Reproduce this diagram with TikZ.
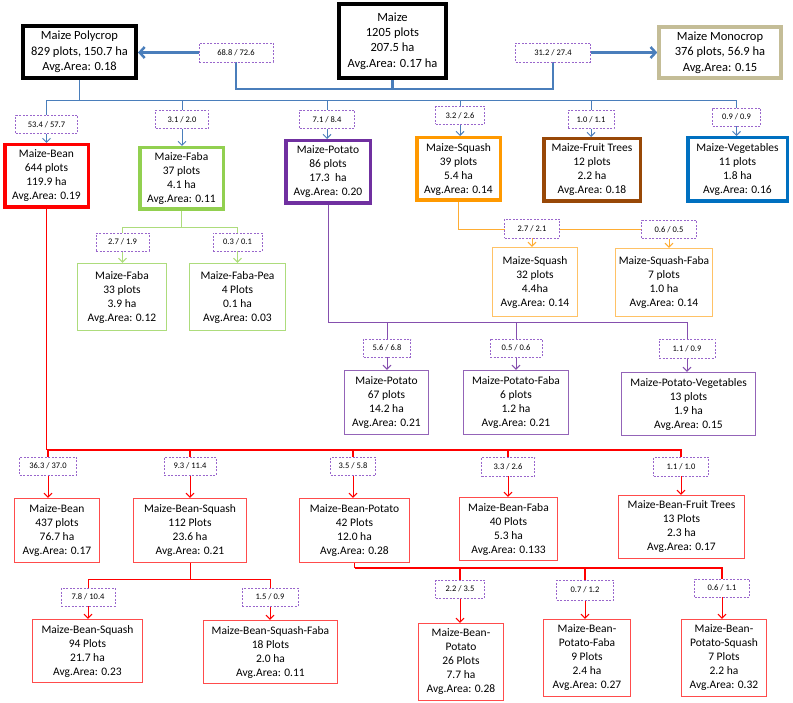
\documentclass[tikz,border=0pt]{standalone}
\usepackage{fontspec}
\setmainfont{Carlito}
\usepackage{xcolor}
\usepackage{tikz}
\usetikzlibrary{arrows.meta,backgrounds}

\definecolor{lineblue}{HTML}{4A7EBB}
\definecolor{monotan}{HTML}{C4BD97}
\definecolor{beanred}{HTML}{FF0000}
\definecolor{fabagreen}{HTML}{92D050}
\definecolor{potpurple}{HTML}{7030A0}
\definecolor{sqorange}{HTML}{FF9900}
\definecolor{fruitbrown}{HTML}{984807}
\definecolor{vegblue}{HTML}{0070C0}
\definecolor{sharepurple}{HTML}{9966CC}
\colorlet{leafred}{beanred!70}
\colorlet{leafgreen}{fabagreen!75}
\colorlet{leafpurple}{potpurple!75}
\colorlet{leaforange}{sqorange!60}
\colorlet{sqline}{sqorange!80}

\begin{document}
\begin{tikzpicture}[x=1pt,y=-1pt,
    block/.style={rectangle,draw,fill=white,align=center,inner sep=0pt,
                  font=\fontsize{11.5}{14}\selectfont},
    topblock/.style={block,line width=4pt,font=\fontsize{12.5}{15.3}\selectfont},
    mainblock/.style={block,line width=3.5pt},
    leaf/.style={block,line width=1.2pt},
    share/.style={rectangle,draw=sharepurple,dash pattern=on 2pt off 1.5pt,
                  line width=0.8pt,fill=white,inner sep=0pt,minimum height=18pt,
                  font=\fontsize{8.5}{10}\selectfont},
    trunk/.style={lineblue,line width=2.5pt},
    bigarrow/.style={trunk,-{Straight Barb[length=5pt,width=11pt]}},
    link/.style={line width=1pt},
    arrow/.style={link,-{Straight Barb[length=4pt,width=8pt]}}]
\useasboundingbox (0,0) rectangle (793,703);

% top row
\node[topblock,minimum width=107pt,minimum height=74pt] (maize) at (392.5,41) {Maize\\1205 plots\\207.5 ha\\Avg.Area: 0.17 ha};
\node[topblock,minimum width=113pt,minimum height=52pt] (poly) at (79.5,52) {Maize Polycrop\\829 plots, 150.7 ha\\Avg.Area: 0.18};
\node[topblock,draw=monotan,line width=3.5pt,minimum width=122pt,minimum height=51pt] (mono) at (720,52.5) {Maize Monocrop\\376 plots, 56.9 ha\\Avg.Area: 0.15};
\node[share,minimum width=74pt,minimum height=19pt] (s-poly) at (236,52.5) {68.8 / 72.6};
\node[share,minimum width=75pt,minimum height=19pt] (s-mono) at (553,52.5) {31.2 / 27.4};

% polycrop split
\node[share,minimum width=62pt] (s-bean) at (46.5,124.5) {53.4 / 57.7};
\node[share,minimum width=53pt] (s-faba) at (182,119.5) {3.1 / 2.0};
\node[share,minimum width=55pt] (s-pot) at (327,119.5) {7.1 / 8.4};
\node[share,minimum width=49pt] (s-sq) at (460,115.5) {3.2 / 2.6};
\node[share,minimum width=46pt] (s-fruit) at (591,119.5) {1.0 / 1.1};
\node[share,minimum width=48pt] (s-veg) at (736.5,117) {0.9 / 0.9};

\node[mainblock,draw=beanred,minimum width=83.5pt,minimum height=62.5pt] (bean) at (46.5,176) {Maize-Bean\\644 plots\\119.9 ha\\Avg.Area: 0.19};
\node[mainblock,draw=fabagreen,minimum width=83.5pt,minimum height=61.5pt] (faba) at (181.5,178.5) {Maize-Faba\\37 plots\\4.1 ha\\Avg.Area: 0.11};
\node[mainblock,draw=potpurple,minimum width=84.5pt,minimum height=62.5pt] (pot) at (328,172) {Maize-Potato\\86 plots\\17.3\ \ ha\\Avg.Area: 0.20};
\node[mainblock,draw=sqorange,minimum width=83.5pt,minimum height=62.5pt] (sq) at (458.5,169) {Maize-Squash\\39 plots\\5.4 ha\\Avg.Area: 0.14};
\node[mainblock,draw=fruitbrown,minimum width=96.5pt,minimum height=62.5pt] (fruit) at (592,170) {Maize-Fruit Trees\\12 plots\\2.2 ha\\Avg.Area: 0.18};
\node[mainblock,draw=vegblue,minimum width=99.5pt,minimum height=63.5pt] (veg) at (737.5,169.5) {Maize-Vegetables\\11 plots\\1.8 ha\\Avg.Area: 0.16};

% faba
\node[share,minimum width=53pt] (s-faba1) at (122.5,242) {2.7 / 1.9};
\node[share,minimum width=49pt] (s-faba2) at (237.5,242) {0.3 / 0.1};
\node[leaf,draw=leafgreen,minimum width=89pt,minimum height=67pt] (faba1) at (122,297) {Maize-Faba\\33 plots\\3.9 ha\\Avg.Area: 0.12};
\node[leaf,draw=leafgreen,minimum width=96pt,minimum height=67pt] (faba2) at (237.5,297) {Maize-Faba-Pea\\4 Plots\\0.1 ha\\Avg.Area: 0.03};

% squash
\node[share,minimum width=55pt,minimum height=19pt] (s-sq1) at (532,228.5) {2.7 / 2.1};
\node[share,minimum width=55pt] (s-sq2) at (669,229.5) {0.6 / 0.5};
\node[leaf,draw=leaforange,minimum width=85pt,minimum height=69pt] (sq1) at (535,282) {Maize-Squash\\32 plots\\4.4ha\\Avg.Area: 0.14};
\node[leaf,draw=leaforange,minimum width=97pt,minimum height=68pt] (sq2) at (664,282.5) {Maize-Squash-Faba\\7 plots\\1.0 ha\\Avg.Area: 0.14};

% potato
\node[share,minimum width=47pt] (s-pot1) at (387,348) {5.6 / 6.8};
\node[share,minimum width=52pt] (s-pot2) at (516,348) {0.5 / 0.6};
\node[share,minimum width=56pt,minimum height=19pt] (s-pot3) at (687,348.5) {1.1 / 0.9};
\node[leaf,draw=leafpurple,minimum width=84pt,minimum height=64pt] (pot1) at (386.5,402.5) {Maize-Potato\\67 plots\\14.2 ha\\Avg.Area: 0.21};
\node[leaf,draw=leafpurple,minimum width=105pt,minimum height=64pt] (pot2) at (516,402.5) {Maize-Potato-Faba\\6 plots\\1.2 ha\\Avg.Area: 0.21};
\node[leaf,draw=leafpurple,minimum width=134pt,minimum height=63pt] (pot3) at (688.5,404) {Maize-Potato-Vegetables\\13 plots\\1.9 ha\\Avg.Area: 0.15};

% bean
\node[share,minimum width=57pt] (s-bean1) at (48,466) {36.3 / 37.0};
\node[share,minimum width=52pt] (s-bean2) at (190,466) {9.3 / 11.4};
\node[share,minimum width=45pt] (s-bean3) at (353,466) {3.5 / 5.8};
\node[share,minimum width=53pt,minimum height=19pt] (s-bean4) at (508,466.5) {3.3 / 2.6};
\node[share,minimum width=55pt,minimum height=19pt] (s-bean5) at (681,466.5) {1.1 / 1.0};
\node[leaf,draw=leafred,minimum width=85pt,minimum height=64pt] (bean1) at (57,530.5) {Maize-Bean\\437 plots\\76.7 ha\\Avg.Area: 0.17};
\node[leaf,draw=leafred,minimum width=113pt,minimum height=64pt] (bean2) at (190,530.5) {Maize-Bean-Squash\\112 Plots\\23.6 ha\\Avg.Area: 0.21};
\node[leaf,draw=leafred,minimum width=110pt,minimum height=64pt] (bean3) at (354.5,530.5) {Maize-Bean-Potato\\42 Plots\\12.0 ha\\Avg.Area: 0.28};
\node[leaf,draw=leafred,minimum width=98pt,minimum height=63pt] (bean4) at (508.5,529) {Maize-Bean-Faba\\40 Plots\\5.3 ha\\Avg.Area: 0.133};
\node[leaf,draw=leafred,minimum width=126pt,minimum height=63pt] (bean5) at (681.5,527) {Maize-Bean-Fruit Trees\\13 Plots\\2.3 ha\\Avg.Area: 0.17};

% bean-squash
\node[share,minimum width=54pt] (s-bs1) at (88,597) {7.8 / 10.4};
\node[share,minimum width=56pt] (s-bs2) at (270,597) {1.5 / 0.9};
\node[leaf,draw=leafred,minimum width=110pt,minimum height=63pt] (bs1) at (87.5,651) {Maize-Bean-Squash\\94 Plots\\21.7 ha\\Avg.Area: 0.23};
\node[leaf,draw=leafred,minimum width=134pt,minimum height=63pt] (bs2) at (270.5,652) {Maize-Bean-Squash-Faba\\18 Plots\\2.0 ha\\Avg.Area: 0.11};

% bean-potato
\node[share,minimum width=49pt] (s-bp1) at (460,589) {2.2 / 3.5};
\node[share,minimum width=57pt,minimum height=20pt] (s-bp2) at (585,590) {0.7 / 1.2};
\node[share,minimum width=55pt] (s-bp3) at (722,588) {0.6 / 1.1};
\node[leaf,draw=leafred,minimum width=85pt,minimum height=77pt] (bp1) at (461,662) {Maize-Bean-\\Potato\\26 Plots\\7.7 ha\\Avg.Area: 0.28};
\node[leaf,draw=leafred,minimum width=87pt,minimum height=77pt] (bp2) at (587,658) {Maize-Bean-\\Potato-Faba\\9 Plots\\2.4 ha\\Avg.Area: 0.27};
\node[leaf,draw=leafred,minimum width=85pt,minimum height=77pt] (bp3) at (724,658) {Maize-Bean-\\Potato-Squash\\7 Plots\\2.2 ha\\Avg.Area: 0.32};

\begin{scope}[on background layer]
% maize -> poly / mono
\coordinate (maizebus) at (392.5,89);
\draw[trunk] (maize.south) -- (maizebus) -| (s-poly.south);
\draw[trunk] (maizebus) -| (s-mono.south);
\draw[bigarrow] (s-poly.west) -- (s-poly.west -| poly.east);
\draw[bigarrow] (s-mono.east) -- (s-mono.east -| mono.west);

% polycrop
\coordinate (polybus) at (79.5,101);
\draw[link,lineblue] (poly.south) -- (polybus);
\foreach \s in {bean,faba,pot,sq,fruit,veg}{
  \draw[link,lineblue] (polybus) -| (s-\s.north);
  \draw[arrow,lineblue] (s-\s.south) -- (s-\s.south |- \s.north);
}

% faba
\coordinate (fababus) at (181.5,228);
\draw[link,leafgreen] (faba.south) -- (fababus);
\foreach \s in {faba1,faba2}{
  \draw[link,leafgreen] (fababus) -| (s-\s.north);
  \draw[arrow,leafgreen] (s-\s.south) -- (s-\s.south |- \s.north);
}

% squash
\draw[link,sqline] (sq.south) |- (s-sq2);
\foreach \s in {sq1,sq2}
  \draw[arrow,sqline] (s-\s.south) -- (s-\s.south |- \s.north);

% potato
\coordinate (potbus) at (328,323);
\draw[link,potpurple!85] (pot.south) -- (potbus);
\foreach \s in {pot1,pot2,pot3}{
  \draw[link,potpurple!85] (potbus) -| (s-\s.north);
  \draw[arrow,potpurple!85] (s-\s.south) -- (s-\s.south |- \s.north);
}

% bean
\coordinate (beanbus) at (46.5,450);
\draw[link,beanred,line width=1.4pt] (bean.south) -- (beanbus);
\foreach \s in {bean1,bean2,bean3,bean4,bean5}{
  \draw[link,beanred,line width=1.4pt] (beanbus) -| (s-\s.north);
  \draw[arrow,beanred] (s-\s.south) -- (s-\s.south |- \s.north);
}

% bean-squash
\coordinate (bsbus) at (190,579);
\draw[link,beanred] (bean2.south) -- (bsbus);
\foreach \s in {bs1,bs2}{
  \draw[link,beanred] (bsbus) -| (s-\s.north);
  \draw[arrow,beanred] (s-\s.south) -- (s-\s.south |- \s.north);
}

% bean-potato
\coordinate (bpbus) at (354.5,568);
\draw[link,beanred,line width=1.4pt] (bean3.south) -- (bpbus);
\foreach \s in {bp1,bp2,bp3}{
  \draw[link,beanred,line width=1.4pt] (bpbus) -| (s-\s.north);
  \draw[arrow,beanred] (s-\s.south) -- (s-\s.south |- \s.north);
}
\end{scope}
\end{tikzpicture}
\end{document}
